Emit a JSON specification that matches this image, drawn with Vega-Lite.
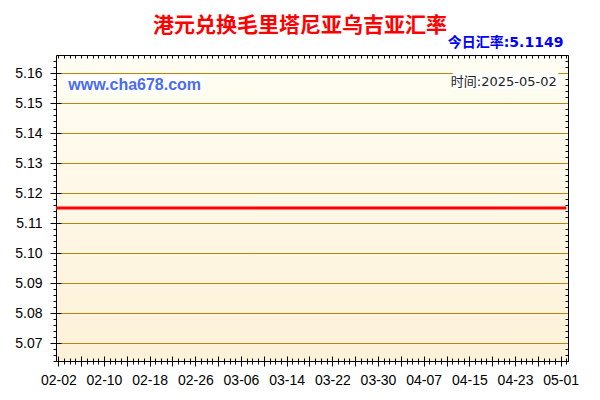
{
  "$schema": "https://vega.github.io/schema/vega-lite/v6.json",
  "width": 512,
  "height": 306,
  "autosize": "none",
  "padding": {"left": 56, "top": 55, "right": 32, "bottom": 39},
  "background": "white",
  "title": {
    "text": "港元兑换毛里塔尼亚乌吉亚汇率",
    "color": "#ff0000",
    "font": "Noto Sans CJK SC",
    "fontSize": 21,
    "fontWeight": "bold",
    "anchor": "middle",
    "dx": -12,
    "offset": 0
  },
  "data": {
    "values": [
      {"d": "2025/02/01", "v": 5.115},
      {"d": "2025/02/02", "v": 5.115}, {"d": "2025/02/03", "v": 5.115}, {"d": "2025/02/04", "v": 5.115},
      {"d": "2025/02/05", "v": 5.115}, {"d": "2025/02/06", "v": 5.115}, {"d": "2025/02/07", "v": 5.115},
      {"d": "2025/02/08", "v": 5.115}, {"d": "2025/02/09", "v": 5.115}, {"d": "2025/02/10", "v": 5.115},
      {"d": "2025/02/11", "v": 5.115}, {"d": "2025/02/12", "v": 5.115}, {"d": "2025/02/13", "v": 5.115},
      {"d": "2025/02/14", "v": 5.115}, {"d": "2025/02/15", "v": 5.115}, {"d": "2025/02/16", "v": 5.115},
      {"d": "2025/02/17", "v": 5.115}, {"d": "2025/02/18", "v": 5.115}, {"d": "2025/02/19", "v": 5.115},
      {"d": "2025/02/20", "v": 5.115}, {"d": "2025/02/21", "v": 5.115}, {"d": "2025/02/22", "v": 5.115},
      {"d": "2025/02/23", "v": 5.115}, {"d": "2025/02/24", "v": 5.115}, {"d": "2025/02/25", "v": 5.115},
      {"d": "2025/02/26", "v": 5.115}, {"d": "2025/02/27", "v": 5.115}, {"d": "2025/02/28", "v": 5.115},
      {"d": "2025/03/01", "v": 5.115}, {"d": "2025/03/02", "v": 5.115}, {"d": "2025/03/03", "v": 5.115},
      {"d": "2025/03/04", "v": 5.115}, {"d": "2025/03/05", "v": 5.115}, {"d": "2025/03/06", "v": 5.115},
      {"d": "2025/03/07", "v": 5.115}, {"d": "2025/03/08", "v": 5.115}, {"d": "2025/03/09", "v": 5.115},
      {"d": "2025/03/10", "v": 5.115}, {"d": "2025/03/11", "v": 5.115}, {"d": "2025/03/12", "v": 5.115},
      {"d": "2025/03/13", "v": 5.115}, {"d": "2025/03/14", "v": 5.115}, {"d": "2025/03/15", "v": 5.115},
      {"d": "2025/03/16", "v": 5.115}, {"d": "2025/03/17", "v": 5.115}, {"d": "2025/03/18", "v": 5.115},
      {"d": "2025/03/19", "v": 5.115}, {"d": "2025/03/20", "v": 5.115}, {"d": "2025/03/21", "v": 5.115},
      {"d": "2025/03/22", "v": 5.115}, {"d": "2025/03/23", "v": 5.115}, {"d": "2025/03/24", "v": 5.115},
      {"d": "2025/03/25", "v": 5.115}, {"d": "2025/03/26", "v": 5.115}, {"d": "2025/03/27", "v": 5.115},
      {"d": "2025/03/28", "v": 5.115}, {"d": "2025/03/29", "v": 5.115}, {"d": "2025/03/30", "v": 5.115},
      {"d": "2025/03/31", "v": 5.115}, {"d": "2025/04/01", "v": 5.115}, {"d": "2025/04/02", "v": 5.115},
      {"d": "2025/04/03", "v": 5.115}, {"d": "2025/04/04", "v": 5.115}, {"d": "2025/04/05", "v": 5.115},
      {"d": "2025/04/06", "v": 5.115}, {"d": "2025/04/07", "v": 5.115}, {"d": "2025/04/08", "v": 5.115},
      {"d": "2025/04/09", "v": 5.115}, {"d": "2025/04/10", "v": 5.115}, {"d": "2025/04/11", "v": 5.115},
      {"d": "2025/04/12", "v": 5.115}, {"d": "2025/04/13", "v": 5.115}, {"d": "2025/04/14", "v": 5.115},
      {"d": "2025/04/15", "v": 5.115}, {"d": "2025/04/16", "v": 5.115}, {"d": "2025/04/17", "v": 5.115},
      {"d": "2025/04/18", "v": 5.115}, {"d": "2025/04/19", "v": 5.115}, {"d": "2025/04/20", "v": 5.115},
      {"d": "2025/04/21", "v": 5.115}, {"d": "2025/04/22", "v": 5.115}, {"d": "2025/04/23", "v": 5.115},
      {"d": "2025/04/24", "v": 5.115}, {"d": "2025/04/25", "v": 5.115}, {"d": "2025/04/26", "v": 5.115},
      {"d": "2025/04/27", "v": 5.115}, {"d": "2025/04/28", "v": 5.115}, {"d": "2025/04/29", "v": 5.115},
      {"d": "2025/04/30", "v": 5.115}, {"d": "2025/05/01", "v": 5.115}, {"d": "2025/05/02", "v": 5.115}
    ]
  },
  "layer": [
    {
      "mark": {"type": "line", "strokeOpacity": 0},
      "encoding": {
        "x": {
          "field": "d", "type": "temporal",
          "axis": {"orient": "bottom", "tickCount": {"interval": "day", "step": 1}, "labels": false, "ticks": true, "tickSize": 3, "tickColor": "#000", "domain": false, "grid": false, "title": null}
        },
        "y": {
          "field": "v", "type": "quantitative",
          "axis": {
            "orient": "left", "labels": false, "ticks": true, "tickSize": 3, "tickColor": "#000", "domain": false, "grid": false, "title": null,
            "values": [5.064, 5.066, 5.068, 5.072, 5.074, 5.076, 5.078, 5.082, 5.084, 5.086, 5.088, 5.092, 5.094, 5.096, 5.098,
                       5.102, 5.104, 5.106, 5.108, 5.112, 5.114, 5.116, 5.118, 5.122, 5.124, 5.126, 5.128, 5.132, 5.134, 5.136, 5.138,
                       5.142, 5.144, 5.146, 5.148, 5.152, 5.154, 5.156, 5.158, 5.162, 5.164]
          }
        }
      }
    },
    {
      "mark": {"type": "line", "strokeOpacity": 0},
      "encoding": {
        "x": {
          "field": "d", "type": "temporal",
          "axis": {"orient": "top", "tickCount": {"interval": "day", "step": 1}, "labels": false, "ticks": true, "tickSize": -3, "tickColor": "#000", "domain": true, "domainColor": "#000", "grid": false, "title": null}
        },
        "y": {
          "field": "v", "type": "quantitative",
          "axis": {
            "orient": "right", "labels": false, "ticks": true, "tickSize": -3, "tickColor": "#000", "domain": true, "domainColor": "#000", "grid": false, "title": null,
            "values": [5.064, 5.066, 5.068, 5.072, 5.074, 5.076, 5.078, 5.082, 5.084, 5.086, 5.088, 5.092, 5.094, 5.096, 5.098,
                       5.102, 5.104, 5.106, 5.108, 5.112, 5.114, 5.116, 5.118, 5.122, 5.124, 5.126, 5.128, 5.132, 5.134, 5.136, 5.138,
                       5.142, 5.144, 5.146, 5.148, 5.152, 5.154, 5.156, 5.158, 5.162, 5.164]
          }
        }
      }
    },
    {
      "mark": {"type": "line", "strokeOpacity": 0},
      "encoding": {
        "x": {
          "field": "d", "type": "temporal",
          "axis": {"orient": "bottom", "tickCount": {"interval": "day", "step": 1}, "labels": false, "ticks": true, "tickSize": -3, "tickColor": "#000", "domain": false, "grid": false, "title": null}
        },
        "y": {
          "field": "v", "type": "quantitative",
          "axis": {
            "orient": "left", "labels": false, "ticks": true, "tickSize": -5, "tickColor": "#000", "domain": false, "grid": false, "title": null,
            "values": [5.07, 5.08, 5.09, 5.1, 5.11, 5.12, 5.13, 5.14, 5.15, 5.16]
          }
        }
      }
    },
    {
      "data": {
        "values": [
          {"x1": "2025/02/03 08:30", "x2": "2025/02/27 12:40", "y1": 5.159, "y2": 5.1533},
          {"x1": "2025/04/12 02:00", "x2": "2025/04/30 14:00", "y1": 5.1602, "y2": 5.1547}
        ]
      },
      "mark": {"type": "rect", "fill": "#ffffff"},
      "encoding": {
        "x": {"field": "x1", "type": "temporal", "axis": null},
        "x2": {"field": "x2"},
        "y": {"field": "y1", "type": "quantitative", "axis": null},
        "y2": {"field": "y2"}
      }
    },
    {
      "mark": {"type": "line", "strokeOpacity": 0},
      "encoding": {
        "x": {
          "field": "d", "type": "temporal",
          "axis": {
            "orient": "bottom", "labels": false, "ticks": true, "tickSize": -5, "tickColor": "#000", "domain": false, "grid": false, "title": null,
            "values": [
              {"year": 2025, "month": 2, "date": 2}, {"year": 2025, "month": 2, "date": 6}, {"year": 2025, "month": 2, "date": 10},
              {"year": 2025, "month": 2, "date": 14}, {"year": 2025, "month": 2, "date": 18}, {"year": 2025, "month": 2, "date": 22},
              {"year": 2025, "month": 2, "date": 26}, {"year": 2025, "month": 3, "date": 2}, {"year": 2025, "month": 3, "date": 6},
              {"year": 2025, "month": 3, "date": 10}, {"year": 2025, "month": 3, "date": 14}, {"year": 2025, "month": 3, "date": 18},
              {"year": 2025, "month": 3, "date": 22}, {"year": 2025, "month": 3, "date": 26}, {"year": 2025, "month": 3, "date": 30},
              {"year": 2025, "month": 4, "date": 3}, {"year": 2025, "month": 4, "date": 7}, {"year": 2025, "month": 4, "date": 11},
              {"year": 2025, "month": 4, "date": 15}, {"year": 2025, "month": 4, "date": 19}, {"year": 2025, "month": 4, "date": 23},
              {"year": 2025, "month": 4, "date": 27}, {"year": 2025, "month": 5, "date": 1}
            ]
          }
        },
        "y": {"field": "v", "type": "quantitative", "axis": null}
      }
    },
    {
      "mark": {"type": "line", "color": "#ff0000", "strokeWidth": 3, "clip": true},
      "encoding": {
        "x": {
          "field": "d", "type": "temporal",
          "scale": {"domain": [{"year": 2025, "month": 2, "date": 1, "hours": 14, "minutes": 20}, {"year": 2025, "month": 5, "date": 2, "hours": 6, "minutes": 45}]},
          "axis": {
            "orient": "bottom", "title": null, "domain": true, "domainColor": "#000", "grid": false,
            "ticks": true, "tickSize": 5, "tickColor": "#000", "labelPadding": 7,
            "labelFont": "Liberation Sans", "labelFontSize": 14, "labelColor": "#000",
            "labelFlush": false, "labelOverlap": false,
            "labelExpr": "round((datum.value - time(datetime(2025, 1, 2))) / 86400000) % 8 == 0 ? timeFormat(datum.value, '%m-%d') : ''",
            "values": [
              {"year": 2025, "month": 2, "date": 2}, {"year": 2025, "month": 2, "date": 6}, {"year": 2025, "month": 2, "date": 10},
              {"year": 2025, "month": 2, "date": 14}, {"year": 2025, "month": 2, "date": 18}, {"year": 2025, "month": 2, "date": 22},
              {"year": 2025, "month": 2, "date": 26}, {"year": 2025, "month": 3, "date": 2}, {"year": 2025, "month": 3, "date": 6},
              {"year": 2025, "month": 3, "date": 10}, {"year": 2025, "month": 3, "date": 14}, {"year": 2025, "month": 3, "date": 18},
              {"year": 2025, "month": 3, "date": 22}, {"year": 2025, "month": 3, "date": 26}, {"year": 2025, "month": 3, "date": 30},
              {"year": 2025, "month": 4, "date": 3}, {"year": 2025, "month": 4, "date": 7}, {"year": 2025, "month": 4, "date": 11},
              {"year": 2025, "month": 4, "date": 15}, {"year": 2025, "month": 4, "date": 19}, {"year": 2025, "month": 4, "date": 23},
              {"year": 2025, "month": 4, "date": 27}, {"year": 2025, "month": 5, "date": 1}
            ]
          }
        },
        "y": {
          "field": "v", "type": "quantitative",
          "scale": {"domain": [5.064, 5.166], "nice": false, "zero": false},
          "axis": {
            "orient": "left", "title": null, "domain": true, "domainColor": "#000",
            "values": [5.07, 5.08, 5.09, 5.1, 5.11, 5.12, 5.13, 5.14, 5.15, 5.16],
            "format": ".2f",
            "grid": true, "gridColor": "#b8860b", "gridOpacity": 1, "gridWidth": 1,
            "ticks": true, "tickSize": 6, "tickColor": "#000", "labelPadding": 8,
            "labelFont": "Liberation Sans", "labelFontSize": 14, "labelColor": "#000"
          }
        }
      }
    },
    {
      "data": {"values": [{"d": "2025/02/03 18:00", "v": 5.1542, "t": "www.cha678.com"}]},
      "mark": {"type": "text", "align": "left", "baseline": "alphabetic", "font": "Liberation Sans", "fontSize": 16, "fontWeight": "bold", "color": "#4a6cf0"},
      "encoding": {
        "x": {"field": "d", "type": "temporal", "axis": null},
        "y": {"field": "v", "type": "quantitative", "axis": null},
        "text": {"field": "t"}
      }
    },
    {
      "data": {"values": [{"d": "2025/05/01", "v": 5.1557, "t": "时间:2025-05-02"}]},
      "mark": {"type": "text", "align": "right", "baseline": "alphabetic", "dx": -4, "font": "DejaVu Sans, Noto Sans CJK SC", "fontSize": 13, "color": "#222222"},
      "encoding": {
        "x": {"field": "d", "type": "temporal", "axis": null},
        "y": {"field": "v", "type": "quantitative", "axis": null},
        "text": {"field": "t"}
      }
    },
    {
      "data": {"values": [{"d": "2025/05/02", "v": 5.166, "t": "今日汇率:5.1149"}]},
      "mark": {"type": "text", "align": "right", "baseline": "alphabetic", "dx": -3, "dy": -8, "font": "DejaVu Sans, Noto Sans CJK SC", "fontSize": 14, "fontWeight": "bold", "color": "#0000ff"},
      "encoding": {
        "x": {"field": "d", "type": "temporal", "axis": null},
        "y": {"field": "v", "type": "quantitative", "axis": null},
        "text": {"field": "t"}
      }
    }
  ],
  "resolve": {"axis": {"x": "independent", "y": "independent"}},
  "config": {
    "view": {
      "stroke": null,
      "fill": {
        "gradient": "linear", "x1": 0, "y1": 0, "x2": 0, "y2": 1,
        "stops": [{"offset": 0, "color": "#fffdf3"}, {"offset": 1, "color": "#fdf1d8"}]
      }
    }
  }
}
